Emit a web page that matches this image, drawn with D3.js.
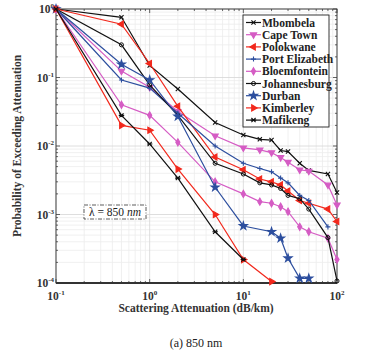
<!DOCTYPE html>
<html>
<head>
<meta charset="utf-8">
<script src="https://cdn.jsdelivr.net/npm/d3@7"></script>
<style>
body { margin: 0; background: #fff; }
text { font-family: "Liberation Serif", "Times New Roman", serif; }
</style>
</head>
<body>
<script>
// attenuation points (dB/km) shared by all cities
const attn = [0.1, 0.5, 1, 2, 5, 10, 15, 20, 25, 30, 40, 50, 80, 100];

const mbombela      = [1, 0.757, 0.15, 0.068, 0.022, 0.0145, 0.0125, 0.0122, 0.0086, 0.0083, 0.0056, 0.0044, 0.0039, 0.0021];
const capeTown      = [1, 0.124, 0.072, 0.032, 0.0141, 0.0094, 0.0088, 0.008, 0.0068, 0.0058, 0.0045, 0.0043, 0.0027, 0.00138];
const polokwane     = [1, 0.60, 0.16, 0.038, 0.0069, 0.0045, 0.0033, 0.003, 0.0027, 0.0022, 0.0016, 0.00146, 0.0012, 0.00079];
const portElizabeth = [1, 0.092, 0.07, 0.03, 0.010, 0.0056, 0.0047, 0.0042, 0.0034, 0.0029, 0.0019, 0.0016, 0.00066];
const bloemfontein  = [1, 0.04, 0.028, 0.0113, 0.003, 0.002, 0.00154, 0.00146, 0.0013, 0.0011, 0.00066, 0.00056, 0.00045, 0.00022];
const johannesburg  = [1, 0.30, 0.078, 0.028, 0.0056, 0.0039, 0.0029, 0.0027, 0.0024, 0.0019, 0.0017, 0.0012, 0.00046, 0.000107];
const durban        = [1, 0.156, 0.092, 0.027, 0.0025, 0.00068, null, 0.00056, 0.00045, 0.00023, 0.000117, 0.000117];
const kimberley     = [1, 0.02, 0.017, 0.0046, 0.001, 0.00022, null, 0.000105];
const mafikeng      = [1, 0.028, 0.0107, 0.0034, 0.00056, 0.00022];

const cityNames = ["Mbombela", "Cape Town", "Polokwane", "Port Elizabeth", "Bloemfontein",
                   "Johannesburg", "Durban", "Kimberley", "Mafikeng"];
const cityValues = [mbombela, capeTown, polokwane, portElizabeth, bloemfontein,
                    johannesburg, durban, kimberley, mafikeng];

const xTickVals = [0.1, 1, 10, 100];
const xTickExp = ["-1", "0", "1", "2"];
const yTickVals = [1, 0.1, 0.01, 0.001, 0.0001];
const yTickExp = ["0", "-1", "-2", "-3", "-4"];

const BLACK = "#111", RED = "#f2281c", MAG = "#d55cc4", BLUE = "#2c4e9e";
const styles = [
  {color: BLACK, mark: "x"},
  {color: MAG, mark: "tri", rot: 180, fill: true},
  {color: RED, mark: "tri", rot: -90, fill: true},
  {color: BLUE, mark: "plus"},
  {color: MAG, mark: "diamond", fill: true},
  {color: BLACK, mark: "circle"},
  {color: BLUE, mark: "star", fill: true},
  {color: RED, mark: "tri", rot: 90, fill: true},
  {color: BLACK, mark: "asterisk"}
];

const W = 387, H = 356;
const L = 56, R = 337, T = 9, B = 283;

const svg = d3.select("body").append("svg")
  .attr("width", W).attr("height", H);

const x = d3.scaleLog().domain([0.1, 100]).range([L, R]);
const y = d3.scaleLog().domain([0.0001, 1]).range([B, T]);

// grid
const minorX = [], minorY = [];
[0.1, 1, 10].forEach(d => { for (let k = 2; k <= 9; k++) minorX.push(d * k); });
[0.0001, 0.001, 0.01, 0.1].forEach(d => { for (let k = 2; k <= 9; k++) minorY.push(d * k); });

const grid = svg.append("g");
grid.selectAll(".mx").data(minorX).enter().append("line")
  .attr("x1", d => x(d)).attr("x2", d => x(d)).attr("y1", T).attr("y2", B)
  .attr("stroke", "#ececec").attr("stroke-width", 0.8);
grid.selectAll(".my").data(minorY).enter().append("line")
  .attr("y1", d => y(d)).attr("y2", d => y(d)).attr("x1", L).attr("x2", R)
  .attr("stroke", "#ececec").attr("stroke-width", 0.8);
grid.selectAll(".gx").data(xTickVals).enter().append("line")
  .attr("x1", d => x(d)).attr("x2", d => x(d)).attr("y1", T).attr("y2", B)
  .attr("stroke", "#d6d6d6").attr("stroke-width", 0.8);
grid.selectAll(".gy").data(yTickVals).enter().append("line")
  .attr("y1", d => y(d)).attr("y2", d => y(d)).attr("x1", L).attr("x2", R)
  .attr("stroke", "#d6d6d6").attr("stroke-width", 0.8);

// ticks inside, on all four sides
const tk = svg.append("g").attr("stroke", "#444").attr("stroke-width", 0.8);
minorX.concat(xTickVals).forEach(d => {
  const len = xTickVals.includes(d) ? 4 : 2;
  tk.append("line").attr("x1", x(d)).attr("x2", x(d)).attr("y1", B).attr("y2", B - len);
  tk.append("line").attr("x1", x(d)).attr("x2", x(d)).attr("y1", T).attr("y2", T + len);
});
minorY.concat(yTickVals).forEach(d => {
  const len = yTickVals.includes(d) ? 4 : 2;
  tk.append("line").attr("y1", y(d)).attr("y2", y(d)).attr("x1", L).attr("x2", L + len);
  tk.append("line").attr("y1", y(d)).attr("y2", y(d)).attr("x1", R).attr("x2", R - len);
});

svg.append("rect").attr("x", L).attr("y", T).attr("width", R - L).attr("height", B - T)
  .attr("fill", "none").attr("stroke", "#333").attr("stroke-width", 0.9);
svg.append("line").attr("x1", L).attr("x2", R).attr("y1", B).attr("y2", B)
  .attr("stroke", "#333").attr("stroke-width", 2);

// tick labels
xTickVals.forEach((d, i) => {
  const t = svg.append("text").attr("x", x(d)).attr("y", 300)
    .attr("text-anchor", "middle").attr("font-size", 11.5).attr("font-weight", "bold").attr("fill", "#333");
  t.append("tspan").text("10");
  t.append("tspan").attr("dy", -5).attr("font-size", 7).text(xTickExp[i]);
});
yTickVals.forEach((d, i) => {
  const t = svg.append("text").attr("x", 54).attr("y", y(d) + 4)
    .attr("text-anchor", "end").attr("font-size", 11.5).attr("font-weight", "bold").attr("fill", "#333");
  t.append("tspan").text("10");
  t.append("tspan").attr("dy", -5).attr("font-size", 7).text(yTickExp[i]);
});

// axis titles
svg.append("text").attr("x", 196).attr("y", 312).attr("text-anchor", "middle")
  .attr("font-size", 11.5).attr("font-weight", "bold").attr("fill", "#333")
  .text("Scattering Attenuation (dB/km)");
svg.append("text").attr("transform", "translate(21,146) rotate(-90)").attr("text-anchor", "middle")
  .attr("font-size", 11.5).attr("font-weight", "bold").attr("fill", "#333")
  .text("Probability of Exceeding Attenuation");

// caption
svg.append("text").attr("x", 196).attr("y", 347).attr("text-anchor", "middle")
  .attr("font-size", 12).attr("fill", "#222").text("(a) 850 nm");

// lambda box
svg.append("rect").attr("x", 84).attr("y", 205).attr("width", 62).attr("height", 14)
  .attr("fill", "#fff").attr("stroke", "#333").attr("stroke-width", 0.8)
  .attr("stroke-dasharray", "4,1.5,1,1.5");
const lam = svg.append("text").attr("x", 115).attr("y", 216).attr("text-anchor", "middle")
  .attr("font-size", 11.5).attr("fill", "#222");
lam.append("tspan").text("\u03bb = 850 ");
lam.append("tspan").attr("font-style", "italic").text("nm");

// marker paths
function markerPath(st, s) {
  switch (st.mark) {
    case "x": return `M${-s},${-s}L${s},${s}M${-s},${s}L${s},${-s}`;
    case "plus": return `M${-s*1.2},0L${s*1.2},0M0,${-s*1.2}L0,${s*1.2}`;
    case "asterisk": return `M${-s},${-s}L${s},${s}M${-s},${s}L${s},${-s}M${-s*1.3},0L${s*1.3},0`;
    case "tri": return d3.symbol(d3.symbolTriangle, 17)();
    case "diamond": return d3.symbol(d3.symbolDiamond, 15)();
    case "circle": return d3.symbol(d3.symbolCircle, 13)();
    case "star": return d3.symbol(d3.symbolStar, 20)();
  }
}

function drawMarker(g, st, px, py) {
  g.append("path").attr("d", markerPath(st, 2.1))
    .attr("transform", `translate(${px},${py}) rotate(${st.rot || 0})`)
    .attr("fill", st.fill ? st.color : "none")
    .attr("stroke", st.color).attr("stroke-width", st.mark === "circle" ? 1 : 1.1);
}

const line = d3.line().x(d => x(d[0])).y(d => y(d[1]));
const plot = svg.append("g");
cityValues.forEach((vals, i) => {
  const st = styles[i];
  const pts = vals.map((v, j) => [attn[j], v]).filter(d => d[1] != null);
  plot.append("path").attr("d", line(pts))
    .attr("fill", "none").attr("stroke", st.color).attr("stroke-width", 1.2);
  const mg = plot.append("g");
  pts.forEach(d => drawMarker(mg, st, x(d[0]), y(d[1])));
});

// legend
const lg = svg.append("g");
lg.append("rect").attr("x", 243).attr("y", 15).attr("width", 86).attr("height", 112)
  .attr("fill", "#fff").attr("stroke", "#222").attr("stroke-width", 0.9);
cityNames.forEach((n, i) => {
  const yy = 22.5 + i * 12.2;
  const st = styles[i];
  lg.append("line").attr("x1", 246).attr("x2", 261).attr("y1", yy).attr("y2", yy)
    .attr("stroke", st.color).attr("stroke-width", 1.2);
  drawMarker(lg, st, 253.5, yy);
  lg.append("text").attr("x", 262).attr("y", yy + 4).attr("font-size", 11.5).attr("font-weight", "bold")
    .attr("fill", "#222").text(n);
});
</script>
</body>
</html>
